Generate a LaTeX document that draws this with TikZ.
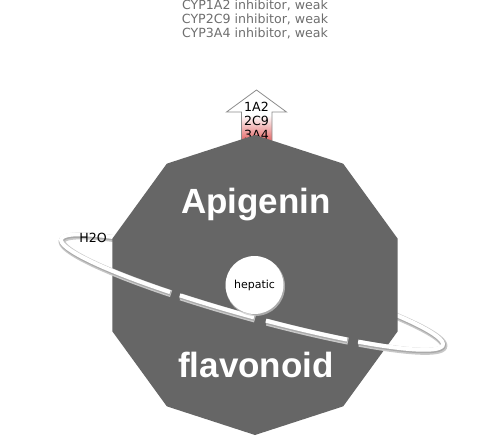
\documentclass[tikz,border=0pt]{standalone}
\usepackage{fontspec}
\setmainfont{DejaVu Sans}
\newfontfamily\libsans{Liberation Sans}
\definecolor{polyfill}{RGB}{102,102,102}
\definecolor{toptext}{RGB}{110,110,110}
\definecolor{arrowline}{RGB}{140,140,140}
\definecolor{ringshadow}{RGB}{200,200,200}
\definecolor{ringshadowdark}{RGB}{170,170,170}
\definecolor{redfill}{RGB}{226,96,96}
\tikzset{
  smalltxt/.style={font=\fontsize{12.6}{14}\selectfont, inner sep=0pt, anchor=base},
  toptxt/.style={smalltxt, text=toptext},
  bigtxt/.style={font=\libsans\bfseries\fontsize{35}{40}\selectfont, text=white, inner sep=0pt, anchor=base},
  ringshadeA/.style={draw=ringshadow, line width=7pt, line cap=round},
  ringshadeB/.style={draw=ringshadowdark, line width=5pt, line cap=round},
  ringwhite/.style={draw=white, line width=4pt, line cap=round},
  declare function={rx(\t)=252+198*cos(\t)*0.9636-24*sin(\t)*0.2672;
                    ry(\t)=292+198*cos(\t)*0.2672+24*sin(\t)*0.9636;}
}
\begin{document}
\begin{tikzpicture}[x=1pt,y=-1pt]
\useasboundingbox (0,0) rectangle (502,436);
% top labels
\node[toptxt] (t1) at (255,9.5) {CYP1A2 inhibitor, weak};
\node[toptxt] (t2) at (255,23.5) {CYP2C9 inhibitor, weak};
\node[toptxt] (t3) at (255,37.5) {CYP3A4 inhibitor, weak};
% ring, back part
\draw[ringshadeA] plot[domain=180:360,samples=80,variable=\t] ({rx(\t)+1},{ry(\t)+1.6});
\draw[ringshadeB] plot[domain=180:360,samples=80,variable=\t] ({rx(\t)+0.5},{ry(\t)+1});
\draw[ringwhite] plot[domain=180:360,samples=80,variable=\t] ({rx(\t)},{ry(\t)});
% arrow
\shade[top color=white, bottom color=redfill] (241.5,115) rectangle (272,142);
\draw[arrowline, line width=0.8pt, line join=miter]
  (241.5,142) -- (241.5,112) -- (226.5,112) -- (256.5,90) -- (286.5,112) -- (272,112) -- (272,142);
\node[smalltxt] (e1) at (256.5,111) {1A2};
\node[smalltxt] (e2) at (256.5,125) {2C9};
\node[smalltxt] (e3) at (256.5,139) {3A4};
% polygon
\coordinate (center) at (255,285);
\fill[polyfill, shift={(255,285)}] (90:150) \foreach \k in {1,...,9}{ -- (90+36*\k:150)} -- cycle;
% ring, front part (dashed over the polygon)
\foreach \a/\b in {0/54.3, 58.2/83.9, 87.5/110.3, 113.5/180}{
  \draw[ringshadeA, line cap=butt] plot[domain=\a:\b,samples=40,variable=\t] ({rx(\t)+1},{ry(\t)+1.6});
  \draw[ringshadeB, line cap=butt] plot[domain=\a:\b,samples=40,variable=\t] ({rx(\t)+0.5},{ry(\t)+1});
  \draw[ringwhite, line cap=butt] plot[domain=\a:\b,samples=40,variable=\t] ({rx(\t)},{ry(\t)});
}
\node[smalltxt] (h2o) at (93,242) {H2O};
% texts
\node[bigtxt] (apigenin) at (256,213) {Apigenin};
\node[bigtxt] (flavonoid) at (256,377) {flavonoid};
% hepatic circle
\fill[ringshadow, opacity=0.7] (255.4,286.4) circle (29.6);
\fill[white] (254.5,285) circle (29);
\node[smalltxt, font=\fontsize{11}{12}\selectfont] (hepatic) at (254.5,288.5) {hepatic};
\end{tikzpicture}
\end{document}
